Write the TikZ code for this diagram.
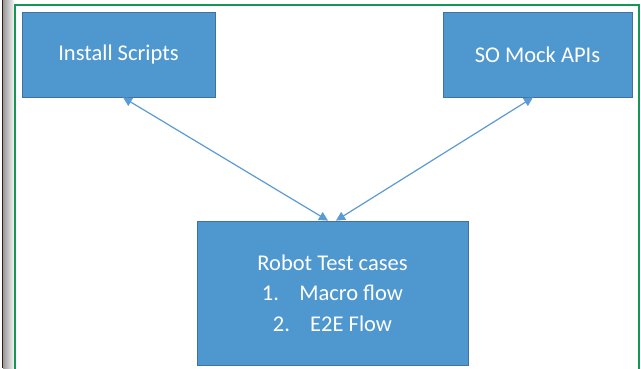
\documentclass[tikz,border=0pt]{standalone}
\usepackage{fontspec}
\setmainfont{Carlito}
\usetikzlibrary{arrows.meta,calc}
\definecolor{boxfill}{RGB}{79,151,207}
\definecolor{boxline}{RGB}{65,113,160}
\definecolor{arrowc}{RGB}{91,155,213}
\definecolor{frameg}{RGB}{20,150,85}
\begin{document}
\begin{tikzpicture}[x=1pt,y=-1pt,
  bluebox/.style={draw=boxline,line width=0.8pt,fill=boxfill,text=white,
    font=\fontsize{22.5}{30.5}\selectfont,inner sep=0pt,align=center},
  link/.style={draw=arrowc,line width=1.2pt,{Triangle[length=9pt,width=9pt]}-{Triangle[length=9pt,width=9pt]}}]
\useasboundingbox (0,0) rectangle (641,368);
\fill[white] (0,0) rectangle (641,368);
% left gray bar
\shade[left color=gray!80,right color=gray!12] (3,0) rectangle (13.5,368);
\fill[black!75!brown] (1.5,0) rectangle (3,368);
% green frame
\draw[frameg,line width=1.6pt] (15,375) -- (15,5) -- (639,5) -- (639,375);
% boxes
\node[bluebox,minimum width=193pt,minimum height=85pt] (inst) at (118.5,54.5) {Install Scripts};
\node[bluebox,minimum width=189pt,minimum height=85pt] (mock) at (537.5,54.5) {SO Mock APIs};
\node[bluebox,minimum width=271pt,minimum height=144pt] (rob) at (332.5,293)
  {Robot Test cases\\1.\hspace{0.9em}Macro flow\\2.\hspace{0.9em}E2E Flow};
% connectors
\draw[link] ([xshift=-4.5pt]rob.north) -- ([xshift=4.5pt]inst.south);
\draw[link] ([xshift=3.5pt]rob.north) -- ([xshift=-4.5pt]mock.south);
\end{tikzpicture}
\end{document}
